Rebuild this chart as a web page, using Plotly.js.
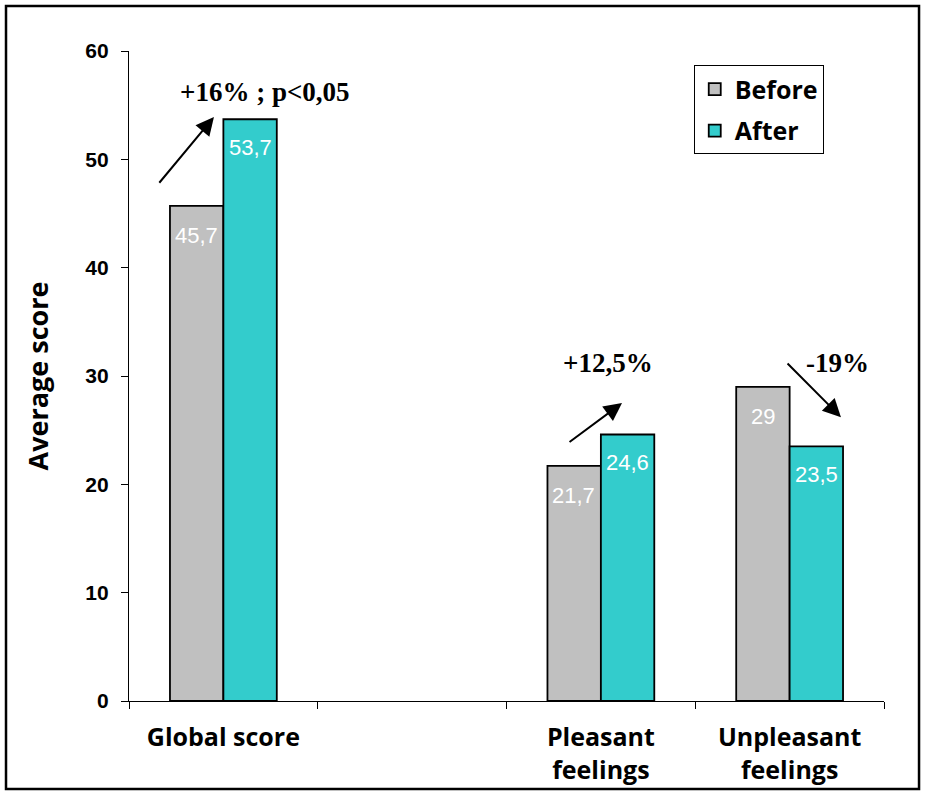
<!DOCTYPE html>
<html>
<head>
<meta charset="utf-8">
<script src="https://cdn.plot.ly/plotly-3.0.1.min.js"></script>
<style>html,body{margin:0;padding:0;background:#fff;}#chart{width:926px;height:796px;}</style>
</head>
<body>
<div id="chart"></div>
<script>
const categories = ["Global score", " ", "Pleasant feelings", "Unpleasant feelings"];
const tickLabels = ["Global score", "", "Pleasant<br>feelings", "Unpleasant<br>feelings"];
const beforeValues = [45.7, null, 21.7, 29];
const afterValues = [53.7, null, 24.6, 23.5];
const beforeLabels = ["45,7", "", "21,7", "29"];
const afterLabels = ["53,7", "", "24,6", "23,5"];
const changeTexts = ["+16% ; p<0,05", "+12,5%", "-19%"];

const traces = [
  {type: "bar", name: "Before", x: categories, y: beforeValues, legendgroup: "a",
   marker: {color: "#C0C0C0", line: {color: "#000", width: 1.8}}, hoverinfo: "none"},
  {type: "bar", name: "After", x: categories, y: afterValues, legendgroup: "b",
   marker: {color: "#33CCCC", line: {color: "#000", width: 1.8}}, hoverinfo: "none"}
];

const annotations = [];
const valFont = {family: "Arial, Liberation Sans, sans-serif", size: 22, color: "#fff"};
categories.forEach((c, i) => {
  if (beforeValues[i] != null) {
    annotations.push({x: c, y: beforeValues[i], xref: "x", yref: "y", text: beforeLabels[i],
      showarrow: false, xshift: -27, yshift: -30, font: valFont});
  }
  if (afterValues[i] != null) {
    annotations.push({x: c, y: afterValues[i], xref: "x", yref: "y", text: afterLabels[i],
      showarrow: false, xshift: 27, yshift: -28, font: valFont});
  }
});
const changeFont = {family: "Liberation Serif, Times New Roman, serif", size: 27, color: "#000", weight: "bold"};
annotations.push({x: 0.22, y: 56.2, xref: "x", yref: "y", text: changeTexts[0], showarrow: false, font: changeFont});
annotations.push({x: 2.038, y: 31.2, xref: "x", yref: "y", text: changeTexts[1], showarrow: false, font: changeFont});
annotations.push({x: 3.256, y: 31.2, xref: "x", yref: "y", text: changeTexts[2], showarrow: false, font: changeFont});
const arrowStyle = {showarrow: true, arrowhead: 2, arrowsize: 1.8, arrowwidth: 2, arrowcolor: "#000", text: "", xref: "x", yref: "y", axref: "x", ayref: "y"};
annotations.push(Object.assign({}, arrowStyle, {x: -0.05, y: 53.9, ax: -0.346, ay: 47.7}));
annotations.push(Object.assign({}, arrowStyle, {x: 2.112, y: 27.5, ax: 1.826, ay: 23.8}));
annotations.push(Object.assign({}, arrowStyle, {x: 3.272, y: 26.2, ax: 2.981, ay: 31.3}));

const gothic = "Open Sans, Noto Sans, sans-serif";
const layout = {
  width: 926, height: 796,
  margin: {l: 129, r: 42, t: 51, b: 95},
  paper_bgcolor: "#fff", plot_bgcolor: "#fff",
  barmode: "group", bargap: 0.434, bargroupgap: 0,
  showlegend: true,
  legend: {x: 0.748, y: 0.978, xanchor: "left", yanchor: "top",
    bordercolor: "#000", borderwidth: 1, bgcolor: "#fff",
    font: {family: gothic, size: 25, color: "#000", weight: "bold"},
    tracegroupgap: 6, traceorder: "grouped"},
  xaxis: {type: "category", tickmode: "array", tickvals: categories, ticktext: tickLabels,
    showline: true, linecolor: "#000", linewidth: 1.2, ticks: "outside", tickson: "boundaries",
    ticklen: 7, tickcolor: "#000", showgrid: false, zeroline: false, fixedrange: true,
    ticklabelstandoff: 14,
    tickfont: {family: gothic, size: 25, color: "#000", weight: "bold"}},
  yaxis: {range: [0, 60], dtick: 10, showline: true, linecolor: "#000", linewidth: 1.2,
    ticks: "outside", ticklen: 7, tickcolor: "#000", showgrid: false, zeroline: false,
    ticklabelstandoff: 8,
    tickfont: {family: "Arial, Liberation Sans, sans-serif", size: 21, color: "#000", weight: "bold"},
    title: {text: "Average score", standoff: 28,
      font: {family: gothic, size: 27, color: "#000", weight: "bold"}}},
  annotations: annotations,
  shapes: [{type: "rect", xref: "paper", yref: "paper", x0: -0.1629, x1: 1.0464, y0: -0.1354, y1: 1.0692,
    line: {color: "#000", width: 2.5}}]
};

Plotly.newPlot("chart", traces, layout, {displayModeBar: false, staticPlot: true});
</script>
</body>
</html>
